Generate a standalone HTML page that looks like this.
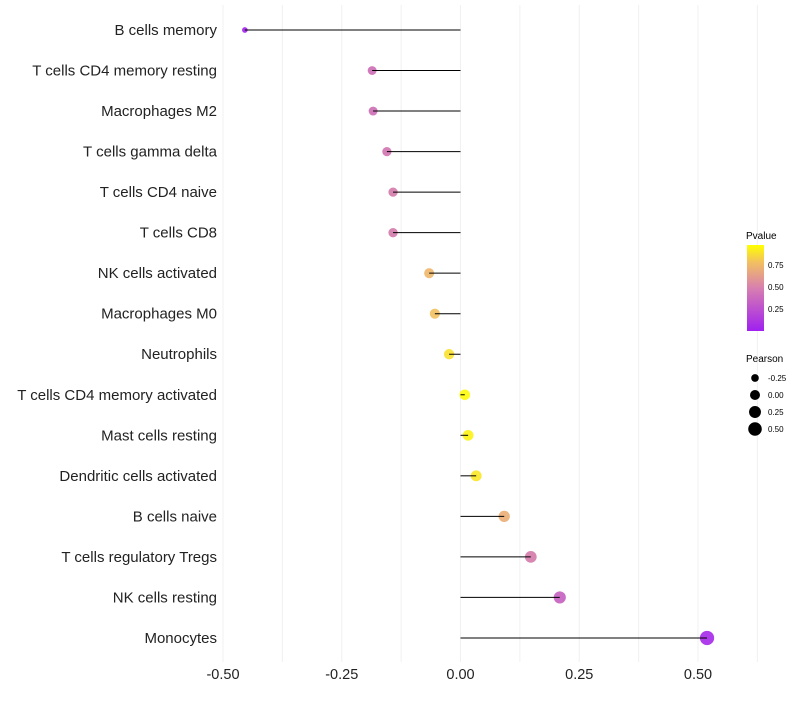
<!DOCTYPE html>
<html><head><meta charset="utf-8"><style>
body{margin:0;background:#fff;font-family:"Liberation Sans",sans-serif}
</style></head><body>
<svg id="c" width="800" height="700" xmlns="http://www.w3.org/2000/svg" font-family="Liberation Sans, sans-serif">
<defs><linearGradient id="g" x1="0" y1="1" x2="0" y2="0">
<stop offset="0" stop-color="#a020f0"/><stop offset="0.5" stop-color="#d87fb0"/><stop offset="0.8" stop-color="#f2c060"/><stop offset="1" stop-color="#ffff00"/></linearGradient></defs>
<g id="grid"></g><g id="marks"></g><g id="labels"></g>
<g>
<text x="746" y="239" font-size="10">Pvalue</text>
<rect x="747" y="245" width="17" height="86" fill="url(#g)"/>
<text x="768" y="268" font-size="8">0.75</text>
<text x="768" y="290" font-size="8">0.50</text>
<text x="768" y="312" font-size="8">0.25</text>
</g>
<g id="sleg">
<text x="746" y="362" font-size="10">Pearson</text>
</g>
</svg>
<script>
const cats=["B cells memory","T cells CD4 memory resting","Macrophages M2","T cells gamma delta","T cells CD4 naive","T cells CD8","NK cells activated","Macrophages M0","Neutrophils","T cells CD4 memory activated","Mast cells resting","Dendritic cells activated","B cells naive","T cells regulatory  Tregs ","NK cells resting","Monocytes"];
const pearson=[-0.454,-0.186,-0.184,-0.155,-0.142,-0.142,-0.066,-0.054,-0.024,0.009,0.016,0.033,0.092,0.148,0.209,0.519];
const pvals=[0.02,0.42,0.42,0.46,0.5,0.5,0.76,0.8,0.9,0.98,0.96,0.92,0.72,0.5,0.35,0.05];
const ticks=[-0.5,-0.25,0,0.25,0.5];
const tickLabels=["-0.50","-0.25","0.00","0.25","0.50"];
const legVals=[-0.25,0,0.25,0.5];
const legLabels=["-0.25","0.00","0.25","0.50"];
const NS="http://www.w3.org/2000/svg";
const x=v=>460.5+v*475;
const y=i=>30+i*40.53;
const r=v=>Math.sqrt(Math.max(2,28+44*v));
function col(p){const st=[[0,[160,32,240]],[0.5,[212,122,170]],[0.8,[242,192,96]],[1,[255,255,0]]];
for(let k=1;k<st.length;k++){if(p<=st[k][0]){const a=st[k-1],b=st[k],t=(p-a[0])/(b[0]-a[0]);return "rgb("+a[1].map((c,j)=>Math.round(c+(b[1][j]-c)*t)).join(",")+")";}}return "rgb(255,255,0)";}
function el(t,a,p){const e=document.createElementNS(NS,t);for(const k in a)e.setAttribute(k,a[k]);p.appendChild(e);return e;}
const G=document.getElementById('grid'),M=document.getElementById('marks'),L=document.getElementById('labels');
for(let v=-0.5;v<=0.626;v+=0.125){const g=el('line',{x1:x(v),x2:x(v),y1:5,y2:662,stroke:'#f0f0f0','stroke-width':1},G);

}
ticks.forEach((t,i)=>{const e=el('text',{x:x(t),y:679,'font-size':14.5,'text-anchor':'middle',fill:'#222'},L);e.textContent=tickLabels[i];

});
cats.forEach((c,i)=>{const t=el('text',{x:217,y:y(i)+5,'font-size':15,'text-anchor':'end',fill:'#222'},L);t.textContent=c;


const d=el('circle',{cx:x(pearson[i]),cy:y(i),r:r(pearson[i]),fill:col(pvals[i]),'fill-opacity':0.9},M);


const s=el('line',{x1:x(0),x2:x(pearson[i]),y1:y(i),y2:y(i),stroke:'#000','stroke-width':1},M);

});
const S=document.getElementById('sleg');
legVals.forEach((v,i)=>{const cy=378+i*17;const c=el('circle',{cx:755,cy:cy,r:r(v)-0.3,fill:'#000'},S);


const t=el('text',{x:768,y:cy+3,'font-size':8},S);t.textContent=legLabels[i];

});
</script>
</body></html>
